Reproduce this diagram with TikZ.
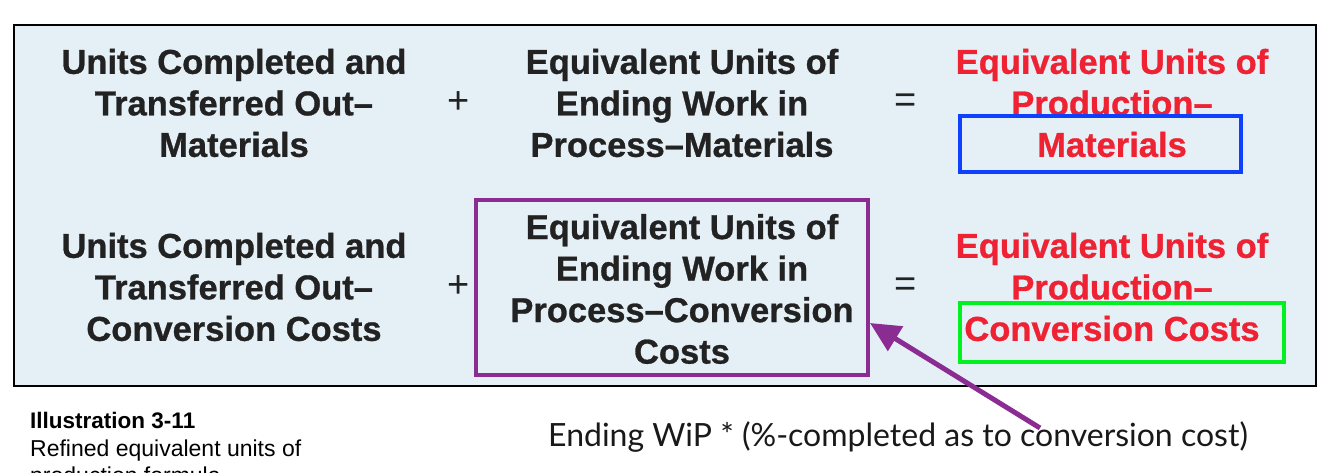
\documentclass[tikz,border=0pt]{standalone}
\usepackage{fontspec}
\setmainfont{Liberation Sans}
\newfontfamily\heavyfont{Liberation Sans Bold}[FakeBold=0.8]
\newfontfamily\thinfont{Lato}
\usetikzlibrary{arrows.meta}
\definecolor{bgblue}{HTML}{E4EFF6}
\definecolor{eqred}{HTML}{EE2233}
\definecolor{boxblue}{HTML}{1040FF}
\definecolor{boxgreen}{HTML}{00F020}
\definecolor{boxpurple}{HTML}{8B2C92}
\definecolor{ink}{HTML}{222222}
\tikzset{
  term/.style={align=center, font=\heavyfont\fontsize{34.5}{41.5}\selectfont, text=ink, inner sep=0pt},
  result/.style={term, text=eqred},
  op/.style={font=\fontsize{38}{40}\selectfont, inner sep=0pt, text=ink},
  hl/.style={draw=#1, line width=4pt, inner sep=0pt},
}
\begin{document}
\begin{tikzpicture}[x=1pt,y=-1pt]
\useasboundingbox (0,0) rectangle (1334,472);
\clip (0,0) rectangle (1334,472);
\node[draw=black, line width=1.8pt, fill=bgblue, minimum width=1302, minimum height=361, inner sep=0pt] (frame) at (665,205.5) {};
% row 1
\node[term] (a1) at (234,103) {Units Completed and\\Transferred Out–\\Materials};
\node[op] (p1) at (459,103) {+};
\node[term] (b1) at (682,103) {Equivalent Units of\\Ending Work in\\Process–Materials};
\node[op] (e1) at (906,103) {=};
\node[result] (c1) at (1112,103) {Equivalent Units of\\Production–\\Materials};
% row 2
\node[term] (a2) at (234,287) {Units Completed and\\Transferred Out–\\Conversion Costs};
\node[op] (p2) at (459,287) {+};
\node[term] (b2) at (682,289) {Equivalent Units of\\Ending Work in\\Process–Conversion\\Costs};
\node[op] (e2) at (906,287) {=};
\node[result] (c2) at (1112,287) {Equivalent Units of\\Production–\\Conversion Costs};
% highlight boxes
\node[hl=boxblue, minimum width=281, minimum height=56] (bbox) at (1100.5,144) {};
\node[hl=boxgreen, minimum width=324, minimum height=59] (gbox) at (1122,332.5) {};
\node[hl=boxpurple, minimum width=392, minimum height=175] (pbox) at (672,287.5) {};
% caption
\node[anchor=base west, font=\bfseries\fontsize{22.5}{26}\selectfont, inner sep=0pt] (ill) at (30,428) {Illustration 3-11};
\node[anchor=base west, font=\fontsize{23}{28}\selectfont, inner sep=0pt] (desc) at (30,456) {Refined equivalent units of};
\node[anchor=base west, font=\fontsize{23}{28}\selectfont, inner sep=0pt] (desc2) at (30,483) {production formula};
% annotation
\node[anchor=base west, font=\thinfont\fontsize{32}{36}\selectfont, inner sep=0pt, text=black!90] (note) at (548,446) {Ending WiP * (\%-completed as to conversion cost)};
\coordinate (tail) at (1040,428);
\coordinate (tip) at (870,323);
\draw[boxpurple, line width=5pt, -{Triangle[length=30pt,width=28pt]}] (tail) -- (tip);
\end{tikzpicture}
\end{document}
